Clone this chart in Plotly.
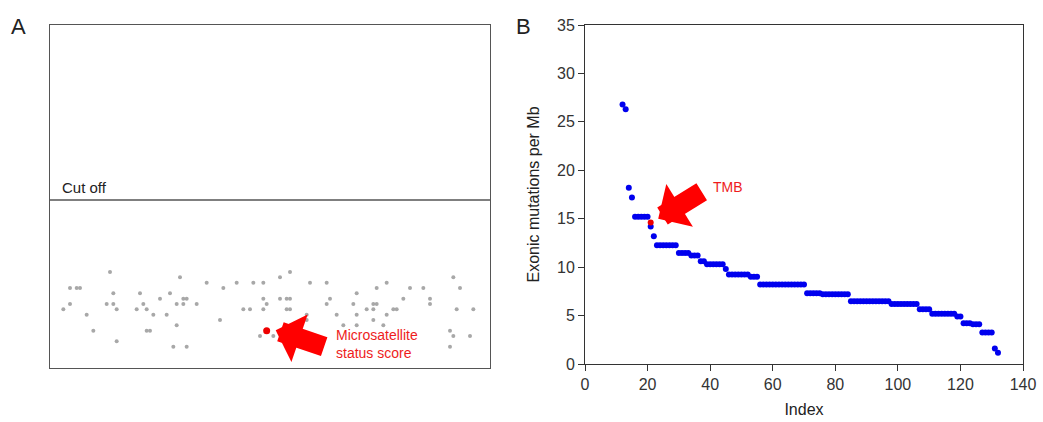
import plotly.graph_objects as go

# ---- panel A: microsatellite status scores (sample index, score level) ----
msi_idx = [18, 6, 8, 9, 39, 47, 52, 56, 61, 64, 19, 27, 36, 33, 40, 41, 64,
           6, 17, 19, 28, 38, 40, 44, 65, 4, 20, 26, 29, 58, 60, 64, 11, 31,
           35, 51, 38, 13, 29, 30, 63, 20, 37, 41,
           72, 69, 78, 83, 101, 121, 98, 108, 112, 123, 92, 69, 71, 72, 84,
           106, 114, 83, 91, 97, 98, 114, 71, 72, 95, 97, 103, 104, 122, 127,
           77, 86, 92, 101, 77, 97, 88, 92, 100, 120, 67, 121, 126, 120]
msi_score = [18, 15, 15, 15, 17, 16, 15, 16, 16, 16, 14, 14, 14, 13, 13, 13, 13,
             12, 12, 12, 12, 12, 12, 12, 12, 11, 11, 11, 11, 11, 11, 11, 10, 10,
             10, 9, 8, 7, 7, 7, 6, 5, 4, 4,
             18, 17, 16, 16, 16, 17, 15, 15, 15, 15, 14, 13, 13, 13, 13,
             13, 13, 12, 12, 12, 12, 12, 11, 11, 11, 11, 11, 11, 11, 11,
             10, 10, 10, 10, 9, 9, 8, 8, 8, 7, 6, 6, 6, 4]
msi_case_idx = [65]
msi_case_score = [7]
msi_cutoff = 31.5

# ---- panel B: exonic mutations per Mb, ranked ----
tmb_idx = list(range(12, 133))
tmb_val = ([26.8, 26.3, 18.2, 17.2] + [15.2] * 5 + [14.2, 13.2] + [12.25] * 7
           + [11.45] * 4 + [11.2] * 3 + [10.6] * 2 + [10.3] * 6 + [9.8]
           + [9.25] * 7 + [9.0] * 3 + [8.2] * 15 + [7.3] * 5 + [7.2] * 9
           + [6.47] * 13 + [6.2] * 9 + [5.65] * 4 + [5.2] * 8 + [4.9] * 2
           + [4.2] * 3 + [4.1] * 3 + [3.25] * 4 + [1.6, 1.17])
tmb_case_idx = [21]
tmb_case_val = [14.6]

FONT = "Liberation Sans"
W, H = 1043, 422


def px_x(p):
    return p / W


def px_y(p):
    return 1 - p / H


fig = go.Figure()

fig.add_trace(go.Scatter(x=msi_idx, y=msi_score, mode="markers",
                         marker=dict(color="#a8a8a8", size=4), xaxis="x", yaxis="y"))
fig.add_trace(go.Scatter(x=msi_case_idx, y=msi_case_score, mode="markers",
                         marker=dict(color="#ee0000", size=7), xaxis="x", yaxis="y"))
fig.add_trace(go.Scatter(x=tmb_idx, y=tmb_val, mode="markers",
                         marker=dict(color="#0000ee", size=6), xaxis="x2", yaxis="y2"))
fig.add_trace(go.Scatter(x=tmb_case_idx, y=tmb_case_val, mode="markers",
                         marker=dict(color="#ee0000", size=6), xaxis="x2", yaxis="y2"))

axis_a = dict(showgrid=False, zeroline=False, showticklabels=False, ticks="",
              automargin=False, showline=True, mirror=True,
              linecolor="#555555", linewidth=1)
axis_b = dict(showgrid=False, zeroline=False, showline=True, mirror=True,
              automargin=False, linecolor="#333333", linewidth=1,
              ticks="outside", ticklen=6, tickcolor="#333333",
              tickfont=dict(size=16, color="#333333"))

fig.update_layout(
    width=W, height=H, showlegend=False,
    paper_bgcolor="white", plot_bgcolor="white",
    margin=dict(l=0, r=0, t=0, b=0),
    font=dict(family=FONT, color="#222222"),
    xaxis=dict(axis_a, domain=[px_x(50), px_x(490)], range=[0, 132]),
    yaxis=dict(axis_a, domain=[px_y(368), px_y(25)], range=[0, 64.3]),
    xaxis2=dict(axis_b, domain=[px_x(585), px_x(1023)], range=[0, 140],
                dtick=20, anchor="y2",
                title=dict(text="Index", font=dict(size=16), standoff=11)),
    yaxis2=dict(axis_b, domain=[px_y(364), px_y(25)], range=[0, 35],
                dtick=5, anchor="x2",
                title=dict(text="Exonic mutations per Mb", font=dict(size=16), standoff=13)),
)

# cut off line
fig.add_shape(type="line", xref="x", yref="y", x0=0, x1=132, y0=msi_cutoff, y1=msi_cutoff,
              line=dict(color="#555555", width=1.5))

annos = [
    dict(text="A", x=px_x(9), y=px_y(27), font=dict(size=22, color="#222222")),
    dict(text="B", x=px_x(514), y=px_y(27), font=dict(size=22, color="#222222")),
    dict(text="Cut off", x=px_x(60), y=px_y(188), font=dict(size=15, color="#222222")),
    dict(text="Microsatellite<br>status score", x=px_x(334), y=px_y(344),
         font=dict(size=14, color="#ee1c1c"), align="left"),
    dict(text="TMB", x=px_x(711), y=px_y(187), font=dict(size=14, color="#ee1c1c")),
]
for a in annos:
    fig.add_annotation(xref="paper", yref="paper", xanchor="left", yanchor="middle",
                       showarrow=False, **a)

# block arrows pointing at the highlighted samples
fig.add_annotation(x=msi_case_idx[0] + 2.7, y=msi_case_score[0] + 0.1, xref="x", yref="y",
                   ax=50, ay=17, text="", showarrow=True, arrowhead=1,
                   arrowsize=0.42, arrowwidth=20, arrowcolor="#ff0000", standoff=0)
fig.add_annotation(x=tmb_case_idx[0] + 2.4, y=tmb_case_val[0] + 0.4, xref="x2", yref="y2",
                   ax=45, ay=-28, text="", showarrow=True, arrowhead=1,
                   arrowsize=0.42, arrowwidth=20, arrowcolor="#ff0000", standoff=0)

fig.write_html("out.html", config={"displayModeBar": False},
               post_script="document.body.style.margin='0';")
